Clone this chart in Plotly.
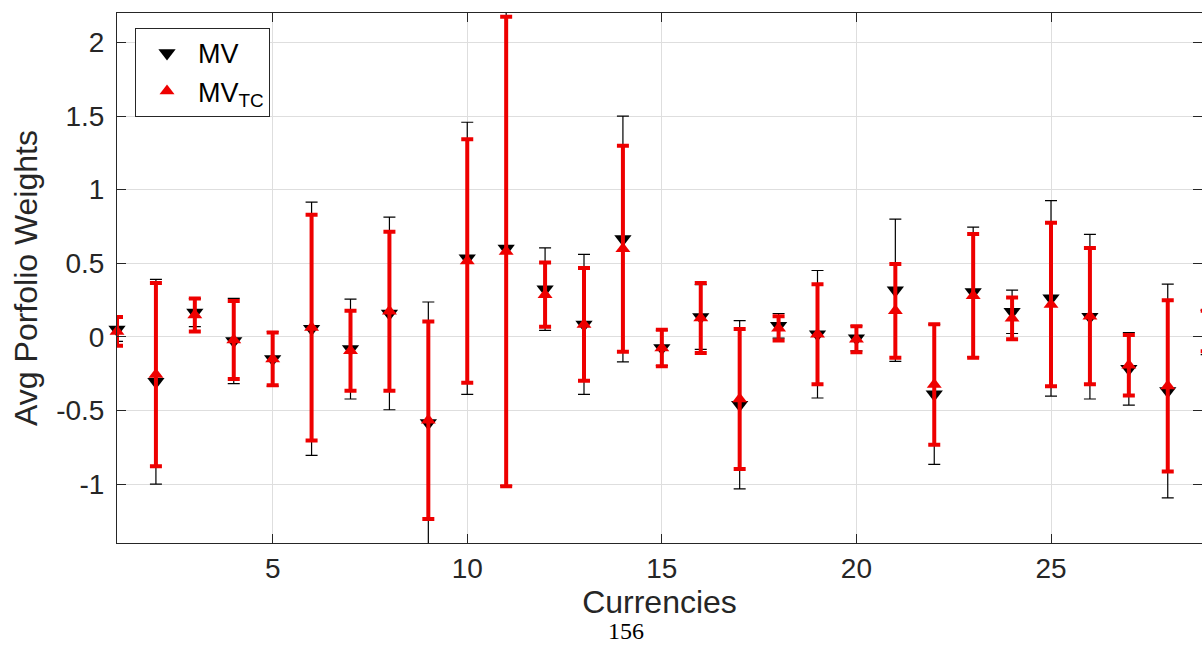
import plotly.graph_objects as go

# Currency index (1..29)
currencies = list(range(1, 30))

# Average portfolio weights and their spread, MV strategy
mv_mean = [0.050, -0.305, 0.165, -0.028, -0.150, 0.055, -0.083, 0.159, -0.585, 0.534,
           0.600, 0.324, 0.085, 0.665, -0.075, 0.135, -0.461, 0.075, 0.018, -0.010,
           0.317, -0.390, 0.305, 0.170, 0.262, 0.137, -0.217, -0.367, 0.030]
mv_std = [0.080, 0.695, 0.095, 0.289, 0.185, 0.860, 0.339, 0.654, 0.822, 0.924,
          1.610, 0.280, 0.476, 0.835, 0.120, 0.220, 0.571, 0.084, 0.433, 0.085,
          0.483, 0.476, 0.441, 0.147, 0.664, 0.559, 0.246, 0.726, 0.150]

# Same quantities for the MV strategy with transaction costs
mvtc_mean = [0.037, -0.256, 0.149, -0.021, -0.150, 0.063, -0.094, 0.174, -0.566, 0.515,
             0.580, 0.287, 0.085, 0.599, -0.076, 0.128, -0.422, 0.058, 0.018, -0.016,
             0.177, -0.323, 0.279, 0.126, 0.220, 0.141, -0.193, -0.333, 0.040]
mvtc_std = [0.098, 0.622, 0.112, 0.265, 0.179, 0.766, 0.272, 0.540, 0.671, 0.827,
            1.595, 0.218, 0.383, 0.700, 0.124, 0.238, 0.476, 0.083, 0.340, 0.089,
            0.318, 0.409, 0.420, 0.142, 0.556, 0.463, 0.205, 0.582, 0.137]

x_ticks = [5, 10, 15, 20, 25]
y_ticks = [-1, -0.5, 0, 0.5, 1, 1.5, 2]
y_tick_text = ["-1", "-0.5", "0", "0.5", "1", "1.5", "2"]

FONT = "Liberation Sans, Arial, sans-serif"
INK = "#262626"
GRID = "#dedede"

fig = go.Figure()

fig.add_trace(go.Scatter(
    x=currencies, y=mv_mean, mode="markers", name="MV",
    marker=dict(symbol="triangle-down", size=15, color="black"),
    error_y=dict(type="data", array=mv_std, visible=True,
                 color="black", thickness=1.2, width=6),
    cliponaxis=False,
))

fig.add_trace(go.Scatter(
    x=currencies, y=mvtc_mean, mode="markers", name="MV<sub>TC</sub>",
    marker=dict(symbol="triangle-up", size=13, color="#ee0000"),
    error_y=dict(type="data", array=mvtc_std, visible=True,
                 color="#ee0000", thickness=4, width=6),
    cliponaxis=False,
))

axis_common = dict(
    showline=True, linecolor=INK, linewidth=1, mirror="ticks",
    ticks="inside", ticklen=9, tickcolor=INK, tickwidth=1,
    showgrid=True, gridcolor=GRID, gridwidth=1, zeroline=False,
    tickfont=dict(family=FONT, size=28, color=INK),
)

fig.update_xaxes(
    range=[1, 28.88], tickvals=x_ticks, ticklabelstandoff=0,
    title=dict(text="Currencies", font=dict(family=FONT, size=32, color=INK), standoff=0),
    **axis_common,
)
fig.update_yaxes(
    range=[-1.4, 2.2], tickvals=y_ticks, ticktext=y_tick_text, ticklabelstandoff=6,
    title=dict(text="Avg Porfolio Weights", font=dict(family=FONT, size=32, color=INK), standoff=8),
    **axis_common,
)

# page number under the figure
fig.add_annotation(
    text="156", xref="paper", yref="paper", x=0.469, y=-0.1945,
    xanchor="center", yanchor="bottom", showarrow=False,
    font=dict(family="Liberation Serif, Times New Roman, serif", size=24, color="black"),
)

fig.update_layout(
    width=1202, height=647,
    margin=dict(l=117, r=0, t=13, b=104, autoexpand=False),
    paper_bgcolor="white", plot_bgcolor="white",
    showlegend=True,
    legend=dict(
        x=0.0166, y=0.972, xanchor="left", yanchor="top",
        bgcolor="white", bordercolor=INK, borderwidth=1,
        font=dict(family=FONT, size=27, color="black"),
        itemwidth=52, tracegroupgap=0,
    ),
)

fig.write_html("out.html")
